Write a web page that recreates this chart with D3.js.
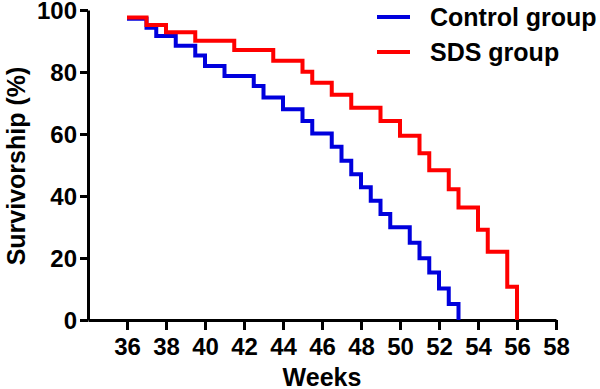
<!DOCTYPE html>
<html lang="en">
<head>
	<meta charset="utf-8">
	<title>Survivorship</title>
	<script src="https://cdn.jsdelivr.net/npm/d3@7"></script>
	<style>
		body { margin: 0; background: #fff; }
		text { font-family: "Liberation Sans", Arial, sans-serif; font-weight: bold; }
	</style>
</head>
<body>
<script>
	// Kaplan-Meier steps (week, % surviving after the drop)
	var controlWeeks = [36, 37, 37.5, 38.5, 39.5, 40, 41, 42.5, 43, 44, 45, 45.5, 46.5, 47, 47.5, 48, 48.5, 49, 49.5, 50.5, 51, 51.5, 52, 52.5, 53];
	var controlValues = [97.2, 94.3, 91.6, 88.5, 85.3, 81.9, 78.7, 75.5, 71.8, 68, 64.2, 60.2, 55.9, 51.4, 47, 42.8, 38.5, 34.2, 29.9, 24.9, 19.9, 15.3, 10.2, 5.2, 0];
	var sdsWeeks = [36, 37, 38, 39.5, 41.5, 43.5, 45, 45.5, 46.5, 47.5, 49, 50, 51, 51.5, 52.5, 53, 54, 54.5, 55.5, 56];
	var sdsValues = [97.6, 95.2, 92.8, 90.1, 87.1, 83.6, 80.1, 76.5, 72.7, 68.5, 64.2, 59.4, 53.8, 48.3, 42.2, 36.3, 29.1, 22, 10.7, 0];
	var xTicks = [36, 38, 40, 42, 44, 46, 48, 50, 52, 54, 56, 58];
	var yTicks = [0, 20, 40, 60, 80, 100];
	var groups = ["Control group", "SDS group"];
	var colors = ["#0000dd", "#ff0000"];

	var w = 600;
	var h = 389;
	// plot box (note: "top" is reserved on window, so prefixed names)
	var pLeft = 88, pRight = 556, pTop = 10, pBottom = 320;

	var svg = d3.select("body")
		.append("svg")
		.attr("width", w)
		.attr("height", h)

	var xScale = d3.scaleLinear()
		.domain([34, 58])
		.range([pLeft, pRight])
	var yScale = d3.scaleLinear()
		.domain([0, 100])
		.range([pBottom, pTop])

	// axes
	var xAxis = svg.append("g")
		.attr("transform", "translate(0," + pBottom + ")")
		.call(d3.axisBottom(xScale).tickValues(xTicks).tickSize(10).tickSizeOuter(0).tickPadding(6))
	var yAxis = svg.append("g")
		.attr("transform", "translate(" + pLeft + ",0)")
		.call(d3.axisLeft(yScale).tickValues(yTicks).tickSize(8).tickSizeOuter(0).tickPadding(3))

	svg.selectAll(".domain, .tick line")
		.attr("stroke", "#000")
		.attr("stroke-width", 3)
	svg.selectAll(".tick text")
		.attr("font-size", "24px")
		.attr("fill", "#000")
	xAxis.selectAll(".tick text").attr("dy", "0.78em")
	yAxis.selectAll(".tick text").attr("dy", "0.36em")

	// axis titles
	svg.append("text")
		.text("Weeks")
		.attr("x", (pLeft + pRight) / 2)
		.attr("y", 386)
		.attr("text-anchor", "middle")
		.attr("font-size", "25px")
	svg.append("text")
		.text("Survivorship (%)")
		.attr("transform", "translate(25," + ((pTop + pBottom) / 2 + 1) + ") rotate(-90)")
		.attr("text-anchor", "middle")
		.attr("font-size", "25px")

	// step curves
	var line = d3.line()
		.x(function(d){ return xScale(d[0]) })
		.y(function(d){ return yScale(d[1]) })
		.curve(d3.curveStepAfter)

	var series = [
		d3.zip(controlWeeks, controlValues),
		d3.zip(sdsWeeks, sdsValues)
	]
	svg.selectAll("path.km")
		.data(series)
		.enter()
		.append("path")
		.attr("class", "km")
		.attr("d", line)
		.attr("fill", "none")
		.attr("stroke", function(d, i){ return colors[i] })
		.attr("stroke-width", 4)

	// legend
	var legend = svg.selectAll("g.legend")
		.data(groups)
		.enter()
		.append("g")
		.attr("class", "legend")
		.attr("transform", function(d, i){ return "translate(377," + (17 + i * 35) + ")" })
	legend.append("line")
		.attr("x1", 0)
		.attr("x2", 33)
		.attr("stroke", function(d, i){ return colors[i] })
		.attr("stroke-width", 4)
	legend.append("text")
		.text(function(d){ return d })
		.attr("x", 53)
		.attr("y", 9)
		.attr("font-size", "25px")
</script>
</body>
</html>
